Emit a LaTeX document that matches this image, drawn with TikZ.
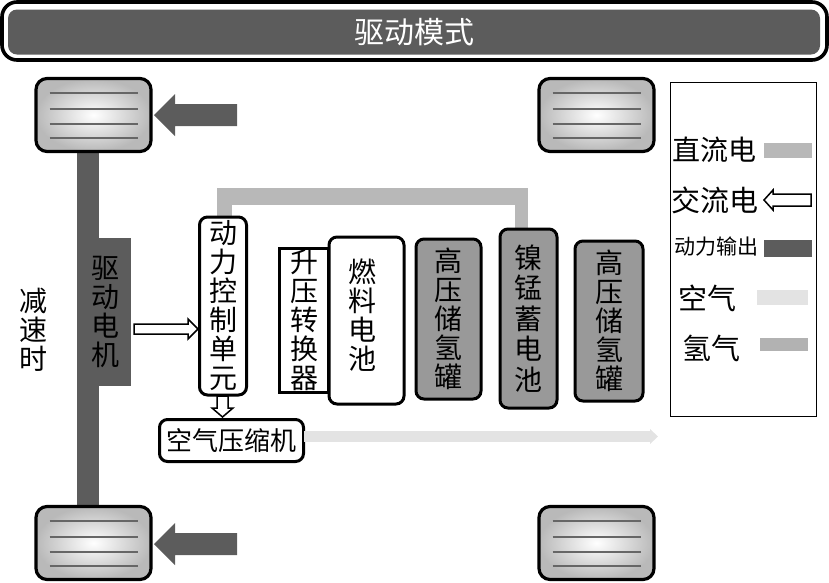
\documentclass[tikz,border=0pt]{standalone}
\usepackage{fontspec}
\setmainfont{Noto Sans CJK SC}
\usetikzlibrary{shapes.arrows}
\definecolor{dc}{gray}{0.72}
\definecolor{pw}{gray}{0.36}
\definecolor{air}{gray}{0.89}
\definecolor{hy}{gray}{0.70}
\definecolor{tank}{gray}{0.60}
\tikzset{
  box/.style={draw=black,line width=3pt,rounded corners=8pt,fill=white,inner sep=0pt,anchor=north west},
  vtext/.style={align=center,font=\fontsize{28}{29}\selectfont,text=black,inner sep=0pt},
  wheel/.style={draw=black,line width=3.2pt,rounded corners=11pt,minimum width=115pt,minimum height=73pt,inner sep=0pt},
  tread/.style={draw=gray!80!black,line width=1.4pt},
  legtext/.style={font=\fontsize{28}{30}\selectfont,inner sep=0pt},
  hollow/.style={draw=black,line width=1.5pt,fill=white},
  solid/.style={fill=pw,draw=none}
}
\newcommand{\wheelat}[3]{%
  \node[wheel,shade,inner color=white,outer color=gray!55] (#1) at (#2,#3) {};
  \foreach \dy in {-22,-6,9,23}
    \draw[tread] (#2-44,#3+\dy) -- (#2+44,#3+\dy);
}
\begin{document}
\begin{tikzpicture}[x=1pt,y=-1pt]
\useasboundingbox (0,0) rectangle (829,582);
% title
\node[draw=black,line width=3.6pt,rounded corners=15pt,minimum width=825pt,minimum height=58pt,inner sep=0pt] (frame) at (414.5,31) {};
\node[fill=pw,rounded corners=9pt,minimum width=812pt,minimum height=45pt,inner sep=0pt,text=white,font=\fontsize{30}{32}\selectfont] (title) at (414,32) {驱动模式};
% shaft
\fill[pw] (77,150) rectangle (99,510);
% motor
\node[fill=pw,minimum width=52pt,minimum height=148pt,vtext] (motor) at (105,312) {驱\\动\\电\\机};
% wheels
\wheelat{w1}{93.5}{115}
\wheelat{w2}{93.5}{543}
\wheelat{w3}{596.5}{115}
\wheelat{w4}{596.5}{543}
% power arrows
\fill[pw] (237,104) -- (175,104) -- (175,94) -- (154,115) -- (175,136) -- (175,126) -- (237,126) -- cycle;
\fill[pw] (237,533) -- (175,533) -- (175,523) -- (154,544) -- (175,565) -- (175,555) -- (237,555) -- cycle;
% left label
\node[vtext] (dec) at (33,330) {减\\速\\时};
% DC line
\fill[dc] (217,188) rectangle (528,205);
\fill[dc] (217,188) rectangle (232,216);
\fill[dc] (515,188) rectangle (528,228);
% boxes
\node[box,minimum width=47pt,minimum height=178pt,vtext] (ctrl) at (198,215.5) {动\\力\\控\\制\\单\\元};
\node[draw=black,line width=3pt,fill=white,minimum width=49pt,minimum height=144pt,vtext,anchor=north west] (boost) at (278,246.5) {升\\压\\转\\换\\器};
\node[box,minimum width=75pt,minimum height=167pt] (fc) at (327.5,235.5) {};
\node[vtext] (fclabel) at (362,315) {燃\\料\\电\\池};
\node[box,fill=tank,minimum width=65pt,minimum height=160pt,vtext] (t1) at (414.5,237.5) {高\\压\\储\\氢\\罐};
\node[box,fill=tank,minimum width=57pt,minimum height=179pt,vtext,font=\fontsize{28}{30.5}\selectfont] (batt) at (498.5,227.5) {镍\\锰\\蓄\\电\\池};
\node[box,fill=tank,minimum width=68pt,minimum height=160pt,vtext] (t2) at (573.5,239.5) {高\\压\\储\\氢\\罐};
\node[box,minimum width=144pt,minimum height=42pt,font=\fontsize{26}{30}\selectfont] (comp) at (158,418) {空气压缩机};
% hollow arrows
\draw[hollow] (134,324) -- (188,324) -- (188,319) -- (198,329) -- (188,339) -- (188,334) -- (134,334) -- cycle;
\draw[hollow] (217,396) -- (228,396) -- (228,408) -- (233,408) -- (222.5,417) -- (212,408) -- (217,408) -- cycle;
% air line
\fill[air] (304,431) rectangle (650,442);
\fill[air] (650,429) -- (658,436.5) -- (650,444) -- cycle;
% legend
\node[draw=black,line width=1.8pt,minimum width=146pt,minimum height=334pt,inner sep=0pt,anchor=north west] (leg) at (669.5,81.5) {};
\node[legtext] (l1) at (714,150) {直流电};
\fill[dc] (764,143) rectangle (812,158);
\node[legtext,font=\fontsize{29}{30}\selectfont] (l2) at (714.5,200) {交流电};
\draw[hollow] (811,194) -- (773,194) -- (773,190) -- (764,200) -- (773,210) -- (773,206) -- (811,206) -- cycle;
\node[legtext,font=\fontsize{21}{25}\selectfont] (l3) at (716.5,247) {动力输出};
\fill[pw] (764,240) rectangle (812,257);
\node[legtext,font=\fontsize{29}{30}\selectfont] (l4) at (707,298) {空气};
\fill[air] (757,290) rectangle (808,305);
\node[legtext,font=\fontsize{29}{30}\selectfont] (l5) at (711.5,348) {氢气};
\fill[hy] (760,338) rectangle (808,351);
\end{tikzpicture}
\end{document}
